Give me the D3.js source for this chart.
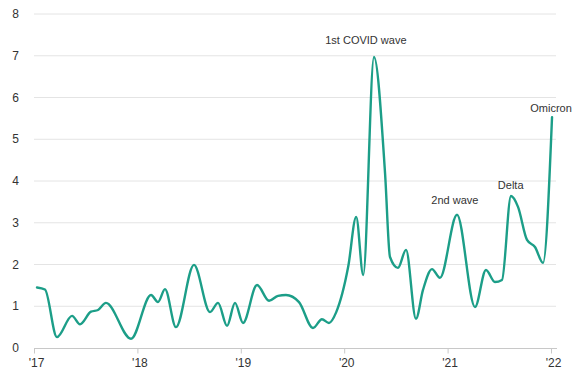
<!DOCTYPE html>
<html><head><meta charset="utf-8">
<script src="https://cdn.jsdelivr.net/npm/d3@7/dist/d3.min.js"></script>
<style>body{margin:0;background:#fff}svg{display:block}text{font-family:"Liberation Sans",Arial,sans-serif}</style>
</head><body><svg id="c" width="579" height="380"></svg>
<script>
const dates = [2017.029,2017.106,2017.222,2017.368,2017.445,2017.551,2017.619,2017.696,2017.938,
  2018.132,2018.199,2018.267,2018.373,2018.547,2018.702,2018.780,2018.867,2018.944,
  2019.021,2019.157,2019.273,2019.360,2019.437,2019.563,2019.698,2019.785,2019.853,2019.923,
  2020.039,2020.116,2020.184,2020.288,2020.395,2020.443,2020.520,2020.598,2020.694,2020.762,2020.849,2020.926,
  2021.091,2021.265,2021.371,2021.458,2021.526,2021.613,2021.681,2021.768,2021.845,2021.923,2022.010];
const values = [1.45,1.40,0.26,0.77,0.57,0.87,0.91,1.08,0.22,
  1.27,1.10,1.41,0.50,1.99,0.86,1.08,0.53,1.08,
  0.60,1.51,1.13,1.25,1.27,1.10,0.48,0.69,0.60,0.86,
  1.95,3.14,1.75,6.97,4.19,2.18,1.92,2.35,0.70,1.39,1.89,1.68,
  3.19,0.98,1.87,1.58,1.63,3.64,3.38,2.59,2.42,2.04,5.53];
const yTicks = [0,1,2,3,4,5,6,7,8];
const xTicks = [2017,2018,2019,2020,2021,2022];
const xTickLabels = ["'17","'18","'19","'20","'21","'22"];
const annLabels = ["1st COVID wave","2nd wave","Delta","Omicron"];
const annX = [2020.21,2021.07,2021.61,2022.0];
const annY = [7.28,3.45,3.81,5.65];

const svg = d3.select("#c");
const x = d3.scaleLinear().domain([2017,2022]).range([34,551]);
const y = d3.scaleLinear().domain([0,8]).range([348,14]);

// gridlines
svg.append("g").selectAll("line").data(yTicks.filter(d=>d>0)).join("line")
  .attr("x1",34).attr("x2",556).attr("y1",d=>y(d)).attr("y2",d=>y(d))
  .attr("stroke","#e4e4e4").attr("stroke-width",1);

// y labels
svg.append("g").selectAll("text").data(yTicks).join("text")
  .attr("x",19).attr("y",d=>y(d)+4).attr("text-anchor","end")
  .attr("font-size",12).attr("fill","#333").text(d=>d);

// x axis
const xa = svg.append("g").attr("transform","translate(0,348.5)")
  .call(d3.axisBottom(x).tickValues(xTicks).tickFormat((d,i)=>xTickLabels[i]).tickSize(5).tickPadding(5));
xa.select(".domain").attr("stroke","#c8c8c8").attr("d","M34,0H557");
xa.selectAll(".tick line").attr("stroke","#c8c8c8");
xa.selectAll(".tick text").attr("font-size",12).attr("fill","#333").attr("dx",2)
  .style("font-family","'Liberation Sans',Arial,sans-serif");

// line
const line = d3.line().x((d,i)=>x(dates[i])).y(d=>y(d)).curve(d3.curveMonotoneX);
svg.append("path").datum(values).attr("d",line)
  .attr("fill","none").attr("stroke","#1c9e88").attr("stroke-width",2.4)
  .attr("stroke-linejoin","round").attr("stroke-linecap","round");

// annotations
svg.append("g").selectAll("text").data(annLabels).join("text")
  .attr("x",(d,i)=>x(annX[i])).attr("y",(d,i)=>y(annY[i])).attr("text-anchor","middle")
  .attr("font-size",11).attr("fill","#333").text(d=>d);
</script></body></html>
